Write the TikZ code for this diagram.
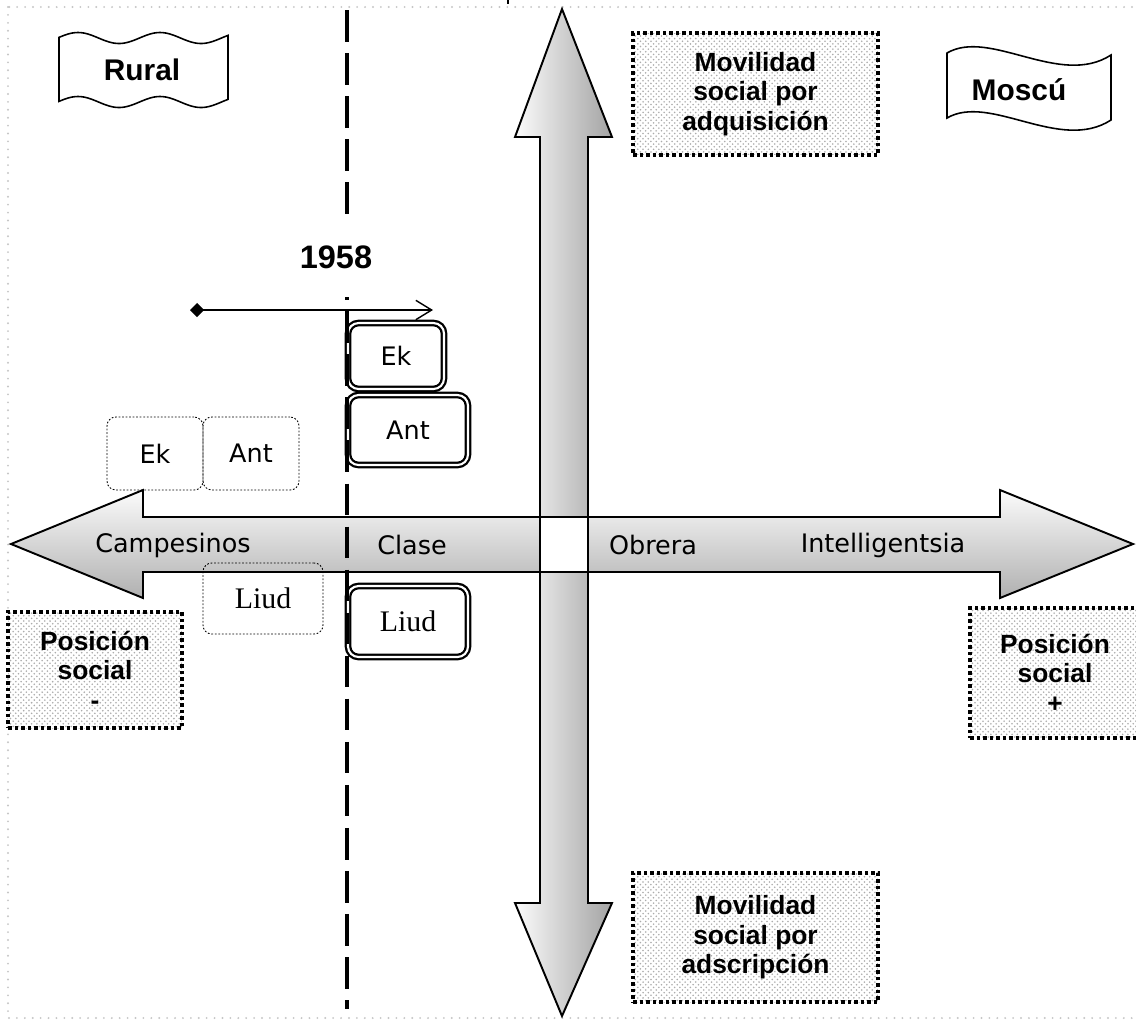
\documentclass[tikz,border=0pt]{standalone}
\usepackage{fontspec}
\setmainfont{DejaVu Sans}
\newfontfamily\headfont{Liberation Sans}
\newfontfamily\serflab{Liberation Serif}
\usetikzlibrary{arrows.meta,patterns}

\tikzset{
  frame/.style={draw=gray!45, line width=1.2pt, dash pattern=on 0pt off 4.5pt, line cap=round},
  axisarrow/.style={draw=black, line width=1.1pt, line join=miter},
  vshade/.style={left color=gray!3, right color=gray!72},
  hshade/.style={top color=gray!3, bottom color=gray!62},
  divider/.style={line width=2.1pt, dash pattern=on 18pt off 6.5pt},
  flag/.style={draw, line width=0.9pt, fill=white},
  flagtext/.style={font=\headfont\bfseries\fontsize{17}{20}\selectfont},
  notebox/.style={draw, line width=2.2pt, dash pattern=on 2pt off 1.7pt,
    preaction={fill=white}, pattern=crosshatch dots, pattern color=gray!65,
    align=center, inner sep=0pt,
    font=\headfont\bfseries\fontsize{15}{16.8}\selectfont},
  classlab/.style={font=\fontsize{14.5}{17}\selectfont},
  oldbox/.style={draw, line width=0.5pt, dash pattern=on 1pt off 1pt,
    rounded corners=5pt, inner sep=0pt, font=\fontsize{14.5}{17}\selectfont},
  newbox/.style={draw, double=white, line width=1.3pt, double distance=1.2pt,
    rounded corners=6pt, inner sep=0pt, font=\fontsize{14.5}{17}\selectfont},
  liudtext/.style={font=\serflab\fontsize{17}{19}\selectfont}
}

\begin{document}
\begin{tikzpicture}[x=0.02cm, y=-0.02cm]
  \useasboundingbox (0,0) rectangle (1136,1019);

  % outer frame
  \draw[frame] (8,7) rectangle (1160,1018);
  \draw[line width=1.2pt] (508,0) -- (508,4);

  % vertical axis: mobility
  \path[axisarrow, vshade] (562,9) -- (612,137) -- (588,137) -- (588,517)
        -- (540,517) -- (540,137) -- (515,137) -- cycle;
  \path[axisarrow, vshade] (540,572) -- (588,572) -- (588,903) -- (612,903)
        -- (562,1016) -- (515,903) -- (540,903) -- cycle;

  % horizontal axis: social class
  \path[axisarrow, hshade] (11,544) -- (143,490) -- (143,517) -- (540,517)
        -- (540,572) -- (143,572) -- (143,598) -- cycle;
  \path[axisarrow, hshade] (588,517) -- (1000,517) -- (1000,490) -- (1133,544)
        -- (1000,598) -- (1000,572) -- (588,572) -- cycle;
  \draw[axisarrow, fill=white] (540,517) rectangle (588,572);

  \node[classlab] (camp) at (173,545) {Campesinos};
  \node[classlab] (clase) at (412,545) {Clase};
  \node[classlab] (obrera) at (653,545) {Obrera};
  \node[classlab] (intel) at (883,545) {Intelligentsia};

  % place flags
  \draw[flag] plot[domain=59:228, samples=80, smooth] (\x,{38-5.5*cos(4.39*(\x-78))})
        -- plot[domain=228:59, samples=80, smooth] (\x,{102-5.5*cos(4.39*(\x-78))}) -- cycle;
  \node[flagtext] (rural) at (142,70) {Rural};
  \draw[flag] (947,53) .. controls (990,28) and (1060,88) .. (1111,55)
        -- (1111,120) .. controls (1060,153) and (990,93) .. (947,118) -- cycle;
  \node[flagtext] (moscu) at (1019,90) {Moscú};

  % annotation boxes
  \node[notebox, minimum width=4.9cm, minimum height=2.44cm] (adq) at (755.5,94)
        {Movilidad\\social por\\adquisición};
  \node[notebox, minimum width=4.9cm, minimum height=2.58cm] (ads) at (755.5,937.5)
        {Movilidad\\social por\\adscripción};
  \node[notebox, minimum width=3.48cm, minimum height=2.32cm] (posneg) at (95,670)
        {Posición\\social\\-};
  \node[notebox, minimum width=3.4cm, minimum height=2.6cm] (pospos) at (1055,673)
        {Posición\\social\\+};

  % shift arrow
  \coordinate (shiftA) at (190,310);
  \coordinate (shiftB) at (433,310);
  \draw[line width=0.8pt, {Diamond[length=8pt,width=8pt]}-{Straight Barb[length=9pt,width=11pt]}]
        (shiftA) -- (shiftB);

  % positions before
  \node[oldbox, minimum width=1.92cm, minimum height=1.46cm] (ekold) at (155,453.5) {Ek};
  \node[oldbox, minimum width=1.92cm, minimum height=1.46cm] (antold) at (251,453.5) {Ant};
  \node[oldbox, minimum width=2.4cm, minimum height=1.42cm, liudtext] (liudold) at (263,598.5) {Liud};

  % positions after
  \node[newbox, minimum width=1.92cm, minimum height=1.32cm] (eknew) at (396,356) {Ek};
  \node[newbox, minimum width=2.4cm, minimum height=1.4cm] (antnew) at (408,430) {Ant};
  \node[newbox, minimum width=2.4cm, minimum height=1.42cm, liudtext] (liudnew) at (408,621.5) {Liud};

  % dividing line 1958
  \draw[divider] (347,10) -- (347,1009);
  \node[fill=white, inner sep=0pt, minimum width=1.6cm, minimum height=1.58cm,
        font=\headfont\bfseries\fontsize{18.5}{20}\selectfont] (year) at (336,257) {1958};
\end{tikzpicture}
\end{document}
